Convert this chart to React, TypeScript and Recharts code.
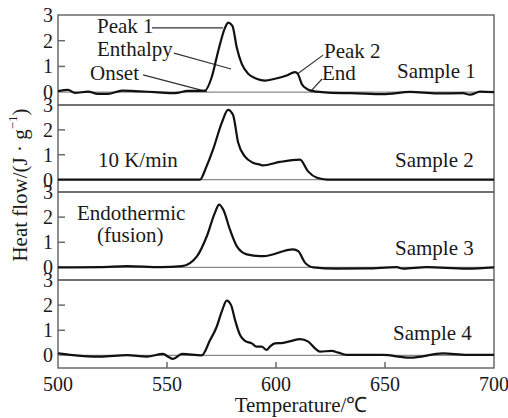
import React from 'react';
import { LineChart, Line, XAxis, YAxis, ReferenceLine, ReferenceArea, ReferenceDot } from 'recharts';

const FONT = '"Liberation Serif", "Times New Roman", serif';
const X_TICKS = [500, 550, 600, 650, 700];
const Y_TICKS = [0, 1, 2, 3];
const Y_DOMAIN = [-0.5, 3];

// Sample 1
const t1 = [500, 504.6, 507.8, 513.8, 518.3, 522.9, 529.4, 535.3, 544.5, 553.7, 559.6, 564, 567.4, 570.5, 573.5, 576.6, 578.1, 580, 582, 584.3, 587.3, 591.1, 594.9, 599.5, 604.9, 608.7, 610, 611.8, 614.1, 617.1, 621, 625.6, 634.4, 649.1, 661.5, 673.9, 685.8, 689, 693.6, 700];
const v1 = [0.04, 0.09, -0.03, 0.02, -0.07, -0.07, 0.06, 0.04, 0, -0.04, 0.05, 0.05, 0.06, 0.58, 1.6, 2.5, 2.7, 2.58, 1.74, 1.1, 0.71, 0.52, 0.45, 0.52, 0.65, 0.78, 0.71, 0.32, 0.13, 0.04, 0, -0.03, -0.04, -0.08, 0.01, -0.05, -0.04, -0.1, 0.02, 0];
// Sample 2
const t2 = [500, 565.1, 568, 571.1, 575.2, 578, 580.3, 582.6, 585.8, 589.4, 592.7, 594, 601.8, 611, 614.7, 618.8, 623.4, 700];
const v2 = [0, 0, 0.5, 1.2, 2.3, 2.8, 2.6, 1.5, 0.92, 0.68, 0.6, 0.57, 0.71, 0.8, 0.33, 0.07, 0, 0];
// Sample 3
const t3 = [500, 519.3, 531.7, 546.8, 556.9, 563.8, 568.3, 572, 573.9, 575.8, 578.9, 582, 586.6, 592.7, 594.2, 607.9, 610.2, 613.3, 617.1, 627.8, 641.6, 655.4, 658.3, 669.1, 687.5, 700];
const v3 = [0, 0.01, 0.05, 0.01, 0.05, 0.45, 1.25, 2.18, 2.5, 2.3, 1.5, 0.85, 0.52, 0.45, 0.45, 0.72, 0.65, 0.19, 0, -0.05, -0.04, 0.01, -0.05, 0.01, -0.05, 0];
// Sample 4
const t4 = [500, 506.9, 519.3, 531.7, 540.8, 548.2, 550.5, 552.8, 556.9, 565.9, 569.7, 572.8, 575.1, 577.4, 579.4, 581.2, 583.5, 585.8, 588.9, 591.1, 593.4, 595.7, 597.2, 599.5, 603.3, 607.2, 611, 614.8, 617.9, 620.2, 625.6, 628.6, 632.4, 649, 661.5, 676.6, 687.5, 700];
const v4 = [0.08, 0.01, -0.05, 0.01, -0.05, 0.06, -0.05, -0.14, 0.06, 0, 0.6, 1.14, 1.74, 2.18, 2.0, 1.41, 0.81, 0.58, 0.48, 0.35, 0.35, 0.22, 0.35, 0.48, 0.5, 0.58, 0.65, 0.55, 0.28, 0.15, 0.18, 0.11, 0.02, 0.02, -0.09, 0.08, 0.02, 0.02];

// Annotation texts: [label, temperature, value]
const notes1: [string, number, number][] = [
  ['Peak 1', 517.9, 2.57],
  ['Enthalpy', 517.9, 1.68],
  ['Onset', 514.7, 0.74],
  ['Peak 2', 622, 1.6],
  ['End', 621.1, 0.74],
  ['Sample 1', 655.5, 0.82],
];
const notes2: [string, number, number][] = [
  ['10 K/min', 518.3, 0.79],
  ['Sample 2', 654.6, 0.79],
];
const notes3: [string, number, number][] = [
  ['Endothermic', 508.7, 2.16],
  ['(fusion)', 517.9, 1.29],
  ['Sample 3', 654.6, 0.77],
];
const notes4: [string, number, number][] = [
  ['Sample 4', 653.7, 0.89],
];
// Leader lines (panel 1): [[t1, v1], [t2, v2]]
const leaders1: [[number, number], [number, number]][] = [
  [[543.1, 2.5], [575.7, 2.5]],
  [[553.2, 1.52], [579.4, 0.9]],
  [[539, 0.67], [568.3, 0.02]],
  [[621.6, 1.44], [609.6, 0.7]],
  [[621.1, 0.51], [615.6, 0.0]],
];

const AXIS = '#6a6a6a';
const TXT = '#1a1a1a';

const YTick = (props: any) => {
  const { x, y, payload } = props;
  const v = payload.value;
  return (
    <g>
      {v !== 3 && v !== 0 ? <line x1={x} x2={x + 7} y1={y} y2={y} stroke={AXIS} strokeWidth={1.5} /> : null}
      <text x={x - 5} y={y} textAnchor="end" dominantBaseline="central" fontFamily={FONT} fontSize={20} fill={TXT}>{v}</text>
    </g>
  );
};

const XTick = (props: any) => {
  const { x, y, payload } = props;
  const v = payload.value;
  return (
    <g>
      {v !== 500 && v !== 700 ? <line x1={x} x2={x} y1={y} y2={y - 6} stroke={AXIS} strokeWidth={1.5} /> : null}
      <text x={x} y={y + 16} textAnchor="middle" dominantBaseline="central" fontFamily={FONT} fontSize={20} fill={TXT}>{v}</text>
    </g>
  );
};

const noteLabel = (text: string) => (p: any) => {
  const vb = p.viewBox || {};
  const cx = vb.x + (vb.width || 0) / 2;
  const cy = vb.y + (vb.height || 0) / 2;
  return (
    <text x={cx} y={cy} textAnchor="start" dominantBaseline="central" fontFamily={FONT} fontSize={21} fill={TXT}>{text}</text>
  );
};

type PanelProps = {
  top: number;
  height: number;
  t: number[];
  v: number[];
  showX?: boolean;
  notes: [string, number, number][];
  leaders?: [[number, number], [number, number]][];
};

function Panel({ top, height, t, v, showX, notes, leaders }: PanelProps) {
  const data = t.map((tt, i) => ({ t: tt, v: v[i] }));
  const M = 14;
  const xH = showX ? 40 : 0;
  return (
    <div style={{ position: 'absolute', left: 0, top: top - M }}>
      <LineChart width={508} height={height + 2 * M + xH} data={data} margin={{ top: M, right: 14, bottom: M, left: 0 }}>
        <XAxis dataKey="t" type="number" domain={[500, 700]} ticks={X_TICKS} interval={0} hide={!showX} height={xH}
          axisLine={false} tickLine={false} tickSize={0} tickMargin={0} tick={<XTick />} allowDataOverflow />
        <YAxis type="number" domain={Y_DOMAIN} ticks={Y_TICKS} interval={0} width={58}
          axisLine={false} tickLine={false} tickSize={0} tickMargin={0} tick={<YTick />} allowDataOverflow />
        <ReferenceArea x1={500} x2={700} y1={-0.5} y2={3} fill="none" stroke={AXIS} strokeWidth={1.5} ifOverflow="visible" />
        <ReferenceLine y={0} stroke="#8a8a8a" strokeWidth={1.2} />
        {(leaders || []).map((s, i) => (
          <ReferenceLine key={'l' + i} segment={[{ x: s[0][0], y: s[0][1] }, { x: s[1][0], y: s[1][1] }]} stroke="#333" strokeWidth={1.2} ifOverflow="visible" />
        ))}
        <Line dataKey="v" type="monotone" stroke="#111" strokeWidth={2.2} dot={false} isAnimationActive={false} />
        {notes.map((n, i) => (
          <ReferenceDot key={'n' + i} x={n[1]} y={n[2]} r={0} fill="none" stroke="none" ifOverflow="visible" label={noteLabel(n[0])} />
        ))}
      </LineChart>
    </div>
  );
}

export default function App() {
  return (
    <div style={{ position: 'absolute', left: 0, top: 0, width: 508, height: 418, background: '#fff' }}>
      <Panel top={15} height={90} t={t1} v={v1} notes={notes1} leaders={leaders1} />
      <Panel top={105} height={87} t={t2} v={v2} notes={notes2} />
      <Panel top={192} height={88} t={t3} v={v3} notes={notes3} />
      <Panel top={280} height={88} t={t4} v={v4} notes={notes4} showX />
      <svg width={508} height={418} style={{ position: 'absolute', left: 0, top: 0, pointerEvents: 'none' }}>
        <text x={301} y={405} textAnchor="middle" dominantBaseline="central" fontFamily={FONT} fontSize={21} fill={TXT}>Temperature/℃</text>
        <text transform="translate(20,185) rotate(-90)" textAnchor="middle" dominantBaseline="central" fontFamily={FONT} fontSize={21} fill={TXT}>
          Heat flow/(J · g<tspan dy={-8} fontSize={13}>−1</tspan><tspan dy={8}>)</tspan>
        </text>
      </svg>
    </div>
  );
}
